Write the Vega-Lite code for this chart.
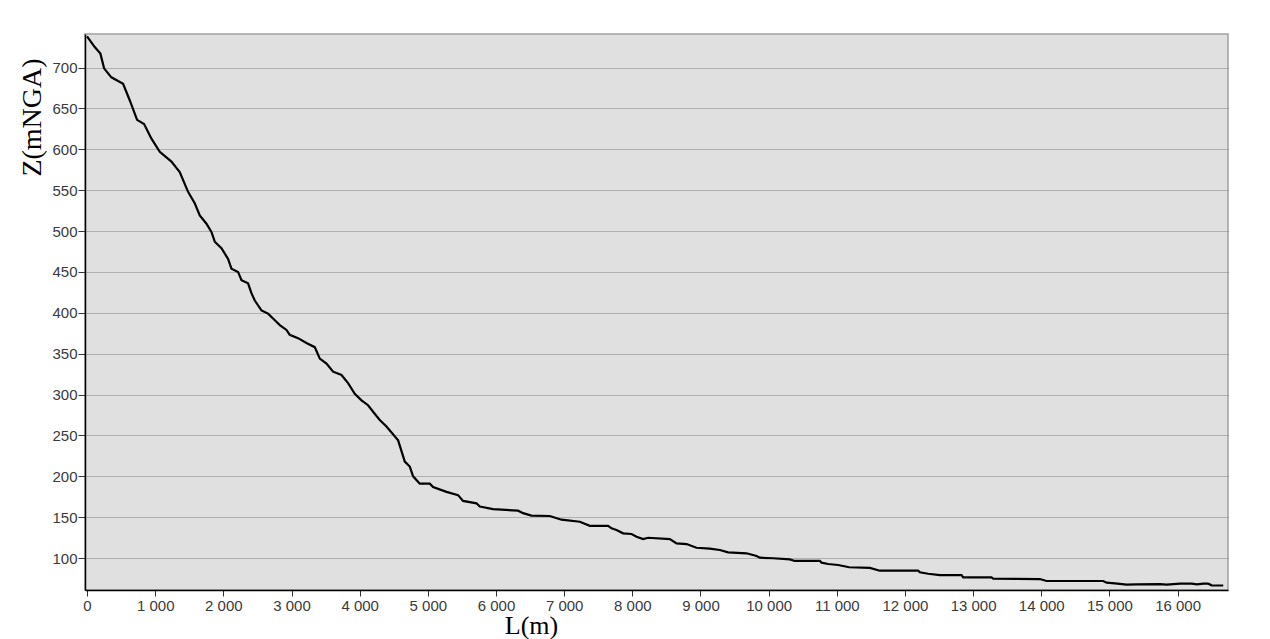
{
  "$schema": "https://vega.github.io/schema/vega-lite/v6.json",
  "width": 1143,
  "height": 556,
  "autosize": "none",
  "padding": {"left": 85, "top": 34, "right": 42, "bottom": 49},
  "background": "white",
  "config": {
    "view": {"fill": "#e0e0e0", "stroke": "#a0a0a0", "strokeWidth": 1.5},
    "axis": {
      "labelFont": "Liberation Sans",
      "labelFontSize": 15,
      "labelColor": "#3a3a3a",
      "titleFont": "Liberation Serif",
      "titleFontSize": 28,
      "titleFontWeight": "normal",
      "titleColor": "#000000",
      "domainColor": "#000000",
      "domainWidth": 1.5,
      "tickColor": "#333333"
    }
  },
  "data": {
    "values": [
      {"L": 0, "Z": 738}, {"L": 113, "Z": 725}, {"L": 196, "Z": 717}, {"L": 250, "Z": 699},
      {"L": 357, "Z": 688}, {"L": 529, "Z": 680}, {"L": 626, "Z": 660}, {"L": 734, "Z": 636},
      {"L": 837, "Z": 631}, {"L": 945, "Z": 613}, {"L": 1067, "Z": 597}, {"L": 1238, "Z": 585},
      {"L": 1360, "Z": 572}, {"L": 1482, "Z": 548}, {"L": 1580, "Z": 534}, {"L": 1654, "Z": 519},
      {"L": 1752, "Z": 509}, {"L": 1825, "Z": 499}, {"L": 1874, "Z": 487}, {"L": 1972, "Z": 479},
      {"L": 2069, "Z": 466}, {"L": 2119, "Z": 454}, {"L": 2216, "Z": 450}, {"L": 2266, "Z": 440},
      {"L": 2362, "Z": 436}, {"L": 2412, "Z": 424}, {"L": 2461, "Z": 415}, {"L": 2559, "Z": 403},
      {"L": 2656, "Z": 399}, {"L": 2729, "Z": 393}, {"L": 2828, "Z": 385}, {"L": 2926, "Z": 379},
      {"L": 2974, "Z": 373}, {"L": 3096, "Z": 369}, {"L": 3219, "Z": 363}, {"L": 3341, "Z": 358},
      {"L": 3415, "Z": 344}, {"L": 3513, "Z": 338}, {"L": 3610, "Z": 328}, {"L": 3733, "Z": 324},
      {"L": 3830, "Z": 314}, {"L": 3928, "Z": 301}, {"L": 4027, "Z": 293}, {"L": 4123, "Z": 287},
      {"L": 4197, "Z": 279}, {"L": 4295, "Z": 269}, {"L": 4393, "Z": 261}, {"L": 4564, "Z": 244},
      {"L": 4662, "Z": 218}, {"L": 4735, "Z": 212}, {"L": 4784, "Z": 200}, {"L": 4882, "Z": 191},
      {"L": 5029, "Z": 191}, {"L": 5077, "Z": 187}, {"L": 5274, "Z": 181}, {"L": 5444, "Z": 177},
      {"L": 5517, "Z": 170}, {"L": 5714, "Z": 167}, {"L": 5762, "Z": 163}, {"L": 5958, "Z": 160},
      {"L": 6324, "Z": 158}, {"L": 6398, "Z": 155}, {"L": 6520, "Z": 152}, {"L": 6790, "Z": 151.5},
      {"L": 6961, "Z": 147}, {"L": 7230, "Z": 144.5}, {"L": 7377, "Z": 139.5}, {"L": 7645, "Z": 139.5},
      {"L": 7695, "Z": 136.4}, {"L": 7768, "Z": 134.3}, {"L": 7865, "Z": 130.3}, {"L": 7989, "Z": 129.5},
      {"L": 8062, "Z": 126.2}, {"L": 8159, "Z": 123.3}, {"L": 8232, "Z": 124.9}, {"L": 8551, "Z": 123.3},
      {"L": 8649, "Z": 118.1}, {"L": 8796, "Z": 117.2}, {"L": 8942, "Z": 112.7}, {"L": 9137, "Z": 111.5},
      {"L": 9284, "Z": 109.9}, {"L": 9406, "Z": 107.1}, {"L": 9676, "Z": 105.9}, {"L": 9823, "Z": 102.6},
      {"L": 9871, "Z": 100.5}, {"L": 10066, "Z": 99.8}, {"L": 10311, "Z": 98.5}, {"L": 10385, "Z": 96.5},
      {"L": 10752, "Z": 96.5}, {"L": 10777, "Z": 94.4}, {"L": 10874, "Z": 92.8}, {"L": 11020, "Z": 91.6},
      {"L": 11182, "Z": 88.8}, {"L": 11486, "Z": 88}, {"L": 11632, "Z": 84.6}, {"L": 12194, "Z": 84.6},
      {"L": 12219, "Z": 82.6}, {"L": 12341, "Z": 80.9}, {"L": 12513, "Z": 79.3}, {"L": 12831, "Z": 79.3},
      {"L": 12855, "Z": 76.5}, {"L": 13271, "Z": 76.5}, {"L": 13295, "Z": 74.8}, {"L": 13979, "Z": 74.4},
      {"L": 14078, "Z": 72}, {"L": 14909, "Z": 72}, {"L": 14958, "Z": 70}, {"L": 15080, "Z": 69.2},
      {"L": 15252, "Z": 67.5}, {"L": 15399, "Z": 68}, {"L": 15741, "Z": 68.3}, {"L": 15839, "Z": 67.5},
      {"L": 16037, "Z": 68.7}, {"L": 16208, "Z": 68.7}, {"L": 16282, "Z": 68}, {"L": 16379, "Z": 68.7},
      {"L": 16450, "Z": 68.7}, {"L": 16500, "Z": 66.7}, {"L": 16670, "Z": 66.5}
    ]
  },
  "mark": {"type": "line", "color": "#000000", "strokeWidth": 2.2, "interpolate": "linear"},
  "encoding": {
    "x": {
      "field": "L",
      "type": "quantitative",
      "scale": {"domain": [-30, 16740], "nice": false, "zero": false},
      "axis": {
        "title": "L(m)",
        "titleFontSize": 26,
        "values": [0, 1000, 2000, 3000, 4000, 5000, 6000, 7000, 8000, 9000, 10000, 11000, 12000, 13000, 14000, 15000, 16000],
        "labelExpr": "replace(format(datum.value, ','), ',', ' ')",
        "grid": false,
        "tickSize": 6,
        "labelPadding": 2,
        "titleX": 446,
        "titleY": 43,
        "titleBaseline": "alphabetic",
        "titleAlign": "center",
        "labelFlush": false
      }
    },
    "y": {
      "field": "Z",
      "type": "quantitative",
      "scale": {"domain": [61, 741], "nice": false, "zero": false},
      "axis": {
        "title": "Z(mNGA)",
        "values": [100, 150, 200, 250, 300, 350, 400, 450, 500, 550, 600, 650, 700],
        "grid": true,
        "gridColor": "#808080",
        "gridDash": [1, 1],
        "gridWidth": 1,
        "tickSize": 7,
        "labelPadding": 1,
        "titleX": -45,
        "titleY": 83,
        "titleAngle": 270,
        "titleBaseline": "alphabetic",
        "titleAlign": "center",
        "labelFlush": false
      }
    }
  }
}
